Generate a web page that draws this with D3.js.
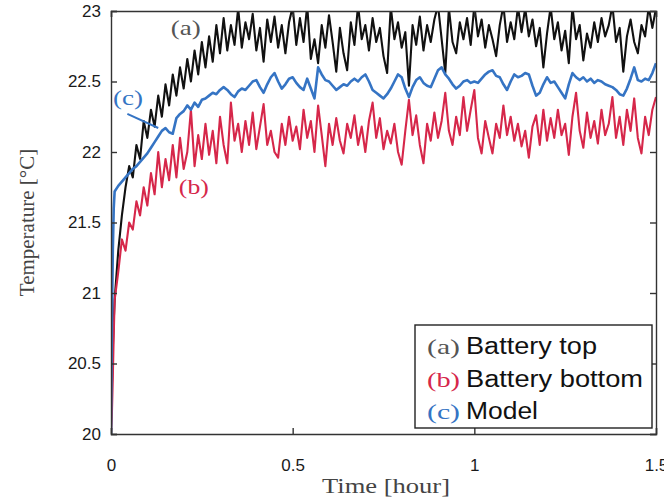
<!DOCTYPE html>
<html>
<head>
<meta charset="utf-8">
<script src="https://cdn.jsdelivr.net/npm/d3@7"></script>
<style>
  body { margin: 0; background: #fff; }
</style>
</head>
<body>
<div id="chart"></div>
<script>
// Sample times (hours): a few fine steps at the start, then every 0.01 h
const earlyTimes = [0, 0.0025, 0.005, 0.0075];
const sampleTimes = earlyTimes.concat(d3.range(1, 151).map(i => i / 100));

// (a) Battery top, measured [°C]
const batteryTop = [
  20.0, 20.35, 20.6, 20.8,
  20.95, 21.3, 21.55, 21.75, 21.9, 21.82, 22.05, 21.95, 22.22, 22.1,
  22.3, 22.18, 22.4, 22.25, 22.48, 22.33, 22.55, 22.4, 22.6, 22.45,
  22.66, 22.5, 22.72, 22.55, 22.78, 22.6, 22.82, 22.64, 22.9, 22.7,
  22.95, 22.72, 22.9, 22.76, 23.02, 22.74, 22.92, 22.8, 22.98, 22.72,
  22.88, 22.64, 22.94, 22.78, 22.96, 22.74, 22.9, 22.7, 22.92, 23.03,
  22.76, 22.95, 22.78, 23.04, 22.66, 22.8, 22.63, 22.9, 22.74, 22.97,
  22.78, 22.57, 22.88, 22.7, 22.58, 22.92, 22.76, 23.04, 22.8, 22.9,
  22.72, 22.95, 22.78, 22.88, 22.68, 22.56, 23.03, 22.8, 22.92, 22.74,
  22.85, 22.47, 22.9, 22.76, 22.96, 22.72, 22.9, 22.78, 22.94, 23.04,
  22.8, 22.56, 23.02, 22.78, 22.7, 22.92, 22.8, 22.95, 22.76, 23.04,
  22.82, 22.94, 22.74, 22.9, 22.8, 22.68, 22.9, 23.04, 22.78, 22.92,
  22.8, 23.03, 22.85, 23.02, 22.82, 22.94, 22.75, 22.88, 22.6, 22.84,
  23.03, 22.8, 22.92, 22.72, 22.86, 22.63, 23.03, 22.8, 22.9, 22.65,
  22.84, 22.74, 22.92, 22.78, 22.95, 22.82, 22.9, 23.04, 22.78, 22.88,
  22.57, 22.82, 22.94, 22.78, 22.7, 22.9, 22.82, 23.03, 22.88, 23.02
];

// (b) Battery bottom, measured [°C]
const batteryBottom = [
  20.0, 20.15, 20.4, 20.7,
  20.95, 21.15, 21.38, 21.3, 21.5, 21.45, 21.65, 21.55, 21.75, 21.62,
  21.85, 21.7, 22.0, 21.75, 21.95, 21.8, 22.05, 21.82, 22.1, 21.88,
  22.0, 22.3, 21.9, 22.12, 21.95, 22.2, 21.98, 22.15, 21.92, 22.25,
  22.05, 21.92, 22.35, 22.08, 22.2, 22.0, 22.22, 22.05, 22.28, 22.02,
  22.18, 22.34, 22.05, 22.15, 22.0, 21.96, 22.2, 22.05, 22.25, 22.08,
  22.18, 22.02, 22.3, 22.1, 22.22, 22.0, 22.33, 22.12, 21.9, 22.2,
  22.05, 22.24, 22.08, 21.99, 22.2, 22.1, 22.26, 22.05, 22.18, 22.0,
  22.22, 22.35, 22.1, 22.24, 22.02, 22.15, 22.06, 22.2, 22.0, 21.91,
  22.15, 22.37, 22.12, 22.26, 22.05, 21.92, 22.2, 22.08, 22.28, 22.1,
  22.22, 22.42, 22.15, 22.05, 22.25, 22.12, 22.39, 22.15, 22.3, 22.44,
  22.1, 21.99, 22.22, 22.1, 21.99, 22.2, 22.1, 22.33, 22.12, 22.25,
  22.08, 22.2, 22.04, 22.15, 21.96, 22.18, 22.26, 22.05, 22.3, 22.08,
  22.24, 22.1, 22.3, 22.12, 22.2, 21.98, 22.25, 22.42, 22.15, 22.03,
  22.28, 22.1, 22.22, 22.06, 22.3, 22.12, 22.2, 22.39, 22.1, 22.25,
  22.05, 22.3, 22.15, 22.38, 22.1, 21.99, 22.25, 22.12, 22.3, 22.39
];

// (c) Model [°C]
const model = [
  20.0, 20.8, 21.3, 21.6,
  21.72, 21.76, 21.79, 21.82, 21.85, 21.88, 21.9, 21.93, 21.96, 21.99,
  22.03, 22.07, 22.11, 22.15, 22.17, 22.14, 22.13, 22.24, 22.27, 22.29,
  22.33, 22.3, 22.35, 22.32, 22.37, 22.38, 22.4, 22.42, 22.41, 22.44,
  22.46, 22.44, 22.41, 22.39, 22.43, 22.45, 22.44, 22.47, 22.5, 22.51,
  22.46, 22.42, 22.48, 22.53, 22.56, 22.5, 22.45, 22.48, 22.52, 22.53,
  22.49, 22.46, 22.44, 22.52, 22.45, 22.38, 22.6, 22.55, 22.51, 22.5,
  22.47, 22.44, 22.46, 22.48, 22.47, 22.5, 22.52, 22.5, 22.53, 22.55,
  22.5, 22.44, 22.42, 22.4, 22.38, 22.41, 22.45, 22.5, 22.55, 22.53,
  22.45, 22.39, 22.46, 22.51, 22.53, 22.49, 22.47, 22.46, 22.52, 22.58,
  22.6, 22.55, 22.52, 22.48, 22.45, 22.47, 22.5, 22.51, 22.49, 22.5,
  22.49, 22.52, 22.55, 22.57, 22.58, 22.54, 22.53, 22.48, 22.44, 22.5,
  22.55, 22.53, 22.54, 22.56, 22.55, 22.47, 22.4, 22.42, 22.48, 22.53,
  22.49, 22.5, 22.46, 22.42, 22.38, 22.48, 22.56, 22.53, 22.51, 22.53,
  22.5, 22.52, 22.49, 22.51, 22.5, 22.48, 22.47, 22.46, 22.44, 22.41,
  22.4, 22.45, 22.52, 22.6, 22.51, 22.5, 22.52, 22.51, 22.56, 22.63
];

const xTicks = [0, 0.5, 1, 1.5];
const yTicks = [20, 20.5, 21, 21.5, 22, 22.5, 23];

const seriesNames = ["(a)", "(b)", "(c)"];
const legendLabels = ["Battery top", "Battery bottom", "Model"];
const legendWidths = [131, 177, 72];
const seriesColors = ["#111111", "#d6274a", "#3574c4"];
const tagColors = ["#555555", "#d6274a", "#3574c4"];

// Dimensions
const margin = { top: 11, right: 8, bottom: 64, left: 111 };
const width = 664 - margin.left - margin.right;
const height = 498 - margin.top - margin.bottom;

const x = d3.scaleLinear().domain([0, 1.5]).range([0, width]);
const y = d3.scaleLinear().domain([20, 23]).range([height, 0]);

const svg = d3.select("#chart")
  .append("svg")
  .attr("width", 664)
  .attr("height", 498)
  .append("g")
  .attr("transform", `translate(${margin.left},${margin.top})`);

svg.append("clipPath")
  .attr("id", "plot-clip")
  .append("rect")
  .attr("width", width)
  .attr("height", height);

// Lines
const seriesData = [batteryTop, batteryBottom, model];
const lineGen = d3.line()
  .x(d => x(d.t))
  .y(d => y(d.v));

const plot = svg.append("g").attr("clip-path", "url(#plot-clip)");

seriesData.forEach((vals, i) => {
  const pts = vals.map((v, j) => ({ t: sampleTimes[j], v: v }));
  plot.append("path")
    .datum(pts)
    .attr("fill", "none")
    .attr("stroke", seriesColors[i])
    .attr("stroke-width", i === 2 ? 2.6 : 2.1)
    .attr("stroke-linejoin", "round")
    .attr("d", lineGen);
});

// Axes (box with inward ticks on all sides)
const axisColor = "#333";
const tickFont = "'Liberation Sans', Arial, sans-serif";
svg.append("g")
  .attr("transform", `translate(0,${height})`)
  .call(d3.axisBottom(x).tickValues(xTicks).tickSize(-6).tickPadding(25)
    .tickFormat(d => d))
  .call(g => g.selectAll("text")
    .style("font-family", tickFont)
    .style("font-size", "17px")
    .attr("fill", "#1a1a1a"));

svg.append("g")
  .call(d3.axisTop(x).tickValues(xTicks).tickSize(-6).tickFormat(""));

svg.append("g")
  .call(d3.axisLeft(y).tickValues(yTicks).tickSize(-6).tickPadding(10)
    .tickFormat(d => d))
  .call(g => g.selectAll("text")
    .style("font-family", tickFont)
    .style("font-size", "17px")
    .attr("fill", "#1a1a1a"));

svg.append("g")
  .attr("transform", `translate(${width},0)`)
  .call(d3.axisRight(y).tickValues(yTicks).tickSize(-6).tickFormat(""));

svg.selectAll(".domain, .tick line")
  .attr("stroke", axisColor)
  .attr("stroke-width", 1.4);

// Axis labels
const serifFont = "'Liberation Serif', 'DejaVu Serif', serif";
svg.append("text")
  .attr("x", 386 - margin.left - 64)
  .attr("y", height + 59)
  .attr("textLength", 128)
  .attr("lengthAdjust", "spacingAndGlyphs")
  .style("font-family", serifFont)
  .style("font-size", "21px")
  .attr("fill", "#444")
  .text("Time [hour]");

svg.append("text")
  .attr("transform", "rotate(-90)")
  .attr("x", -height / 2)
  .attr("y", -77)
  .attr("text-anchor", "middle")
  .style("font-family", serifFont)
  .style("font-size", "21px")
  .attr("fill", "#444")
  .text("Temperature [°C]");

// In-plot tags
const tagPos = [
  { t: 0.206, v: 22.83 },
  { t: 0.228, v: 21.70 },
  { t: 0.047, v: 22.33 }
];
tagPos.forEach((p, i) => {
  svg.append("text")
    .attr("x", x(p.t) - 15)
    .attr("y", y(p.v))
    .attr("textLength", 30)
    .attr("lengthAdjust", "spacingAndGlyphs")
    .style("font-family", serifFont)
    .style("font-size", "21px")
    .attr("fill", tagColors[i])
    .text(seriesNames[i]);
});

// Leader line from (c) to the model curve
svg.append("line")
  .attr("x1", x(0.045))
  .attr("y1", y(22.27))
  .attr("x2", x(0.13))
  .attr("y2", y(22.17))
  .attr("stroke", seriesColors[2])
  .attr("stroke-width", 2);

// Legend
const legend = svg.append("g")
  .attr("transform", `translate(${415 - margin.left},${325 - margin.top})`);

legend.append("rect")
  .attr("width", 237)
  .attr("height", 103)
  .attr("fill", "#fff")
  .attr("stroke", "#222")
  .attr("stroke-width", 1.4);

legendLabels.forEach((lab, i) => {
  const row = legend.append("g")
    .attr("transform", `translate(0,${29 + i * 32.5})`);
  row.append("text")
    .attr("x", 12)
    .attr("textLength", 33)
    .attr("lengthAdjust", "spacingAndGlyphs")
    .style("font-family", serifFont)
    .style("font-size", "21px")
    .attr("fill", tagColors[i])
    .text(seriesNames[i]);
  row.append("text")
    .attr("x", 51)
    .attr("textLength", legendWidths[i])
    .attr("lengthAdjust", "spacingAndGlyphs")
    .style("font-family", tickFont)
    .style("font-size", "23px")
    .attr("fill", "#111")
    .text(lab);
});
</script>
</body>
</html>
